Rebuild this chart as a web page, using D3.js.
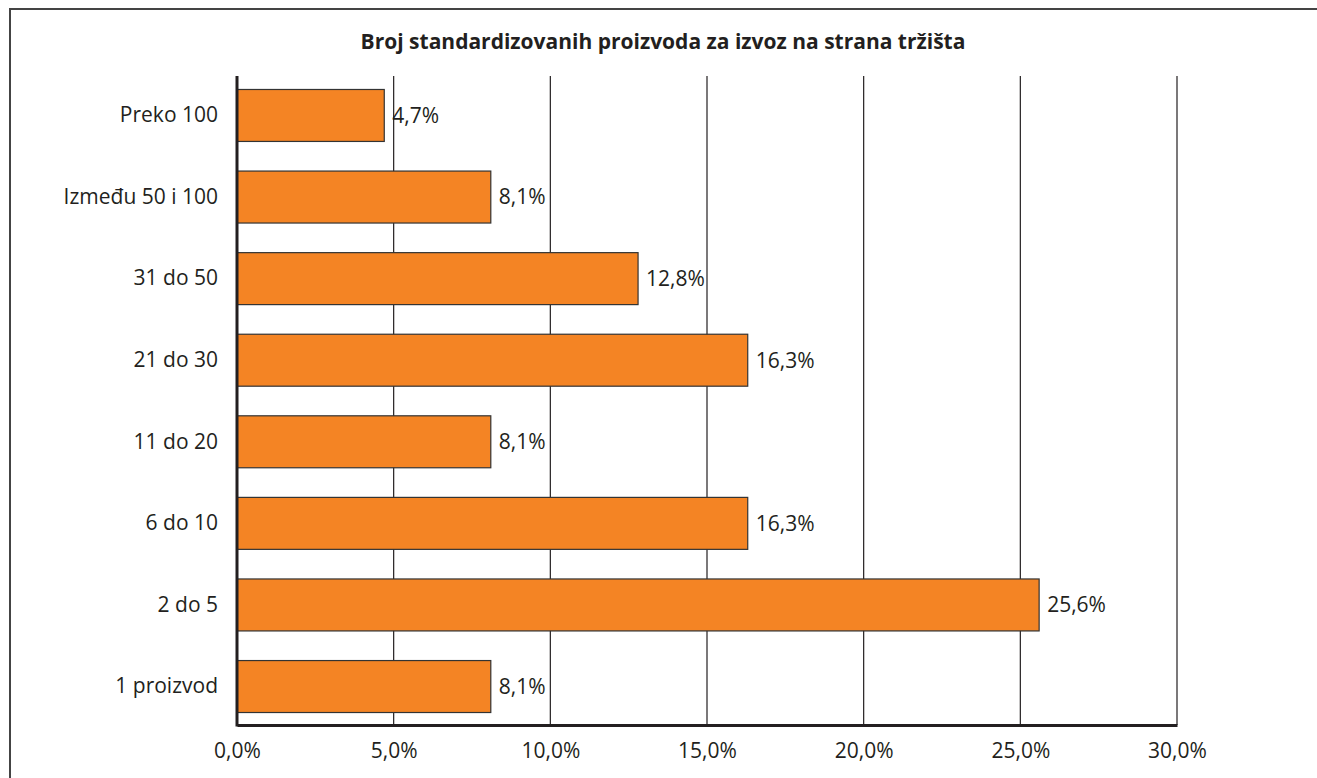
<!DOCTYPE html>
<html>
<head>
<meta charset="utf-8">
<script src="https://cdn.jsdelivr.net/npm/d3@7"></script>
<style>
  html, body { margin: 0; padding: 0; background: #fff; }
  svg { display: block; }
  text { font-family: "Open Sans", "Noto Sans", sans-serif; fill: #231f20; }
</style>
</head>
<body>
<svg id="chart" width="1317" height="778"></svg>
<script>
// Categories (top to bottom) and their shares in percent
const categories = ["Preko 100", "Između 50 i 100", "31 do 50", "21 do 30", "11 do 20", "6 do 10", "2 do 5", "1 proizvod"];
const values = [4.7, 8.1, 12.8, 16.3, 8.1, 16.3, 25.6, 8.1];
const tickValues = [0, 5, 10, 15, 20, 25, 30];
const title = "Broj standardizovanih proizvoda za izvoz na strana tržišta";

const W = 1317, H = 778;
const margin = { left: 237, right: 140, top: 77, bottom: 53 };
const fontSize = "21px";
const svg = d3.select("#chart");

const fmt = v => d3.format(".1f")(v).replace(".", ",") + "%";

// Outer frame
svg.append("rect")
  .attr("x", 10).attr("y", 9)
  .attr("width", W + 20).attr("height", H + 20)
  .attr("fill", "none").attr("stroke", "#444").attr("stroke-width", 2);

// Title
svg.append("text")
  .attr("x", 663).attr("y", 49)
  .attr("text-anchor", "middle")
  .style("font-size", "21px").style("font-weight", "bold")
  .text(title);

const x = d3.scaleLinear().domain([0, 30]).range([margin.left, W - margin.right]);
const y = d3.scaleBand().domain(categories).range([margin.top, H - margin.bottom]).paddingInner(0.363).paddingOuter(0.153);

// Vertical gridlines
svg.append("g").selectAll("line")
  .data(tickValues.filter(t => t > 0))
  .join("line")
  .attr("x1", d => x(d)).attr("x2", d => x(d))
  .attr("y1", margin.top - 1).attr("y2", H - margin.bottom)
  .attr("stroke", "#231f20").attr("stroke-width", 1.2);

// Bars
svg.append("g").selectAll("rect")
  .data(values)
  .join("rect")
  .attr("x", x(0))
  .attr("y", (d, i) => y(categories[i]))
  .attr("width", d => x(d) - x(0))
  .attr("height", y.bandwidth())
  .attr("fill", "#f48424")
  .attr("stroke", "#333")
  .attr("stroke-width", 1.2);

// Value labels
svg.append("g").selectAll("text")
  .data(values)
  .join("text")
  .attr("x", d => x(d) + 8)
  .attr("y", (d, i) => y(categories[i]) + y.bandwidth() / 2)
  .attr("dy", "0.35em")
  .style("font-size", fontSize)
  .text(d => fmt(d));

// X axis
const xAxis = svg.append("g")
  .attr("transform", `translate(0,${H - margin.bottom})`)
  .call(d3.axisBottom(x).tickValues(tickValues).tickSize(0).tickPadding(18).tickFormat(d => fmt(d)));
xAxis.select(".domain").attr("stroke", "#231f20").attr("stroke-width", 3);
xAxis.selectAll("text").style("font-size", fontSize).attr("fill", "#231f20");

// Y axis
const yAxis = svg.append("g")
  .attr("transform", `translate(${margin.left},0)`)
  .call(d3.axisLeft(y).tickSize(0).tickPadding(19));
yAxis.select(".domain").attr("stroke", "#231f20").attr("stroke-width", 3)
  .attr("d", `M0,${margin.top - 1}V${H - margin.bottom + 1.5}`);
yAxis.selectAll("text").style("font-size", fontSize).attr("fill", "#231f20");
</script>
</body>
</html>
